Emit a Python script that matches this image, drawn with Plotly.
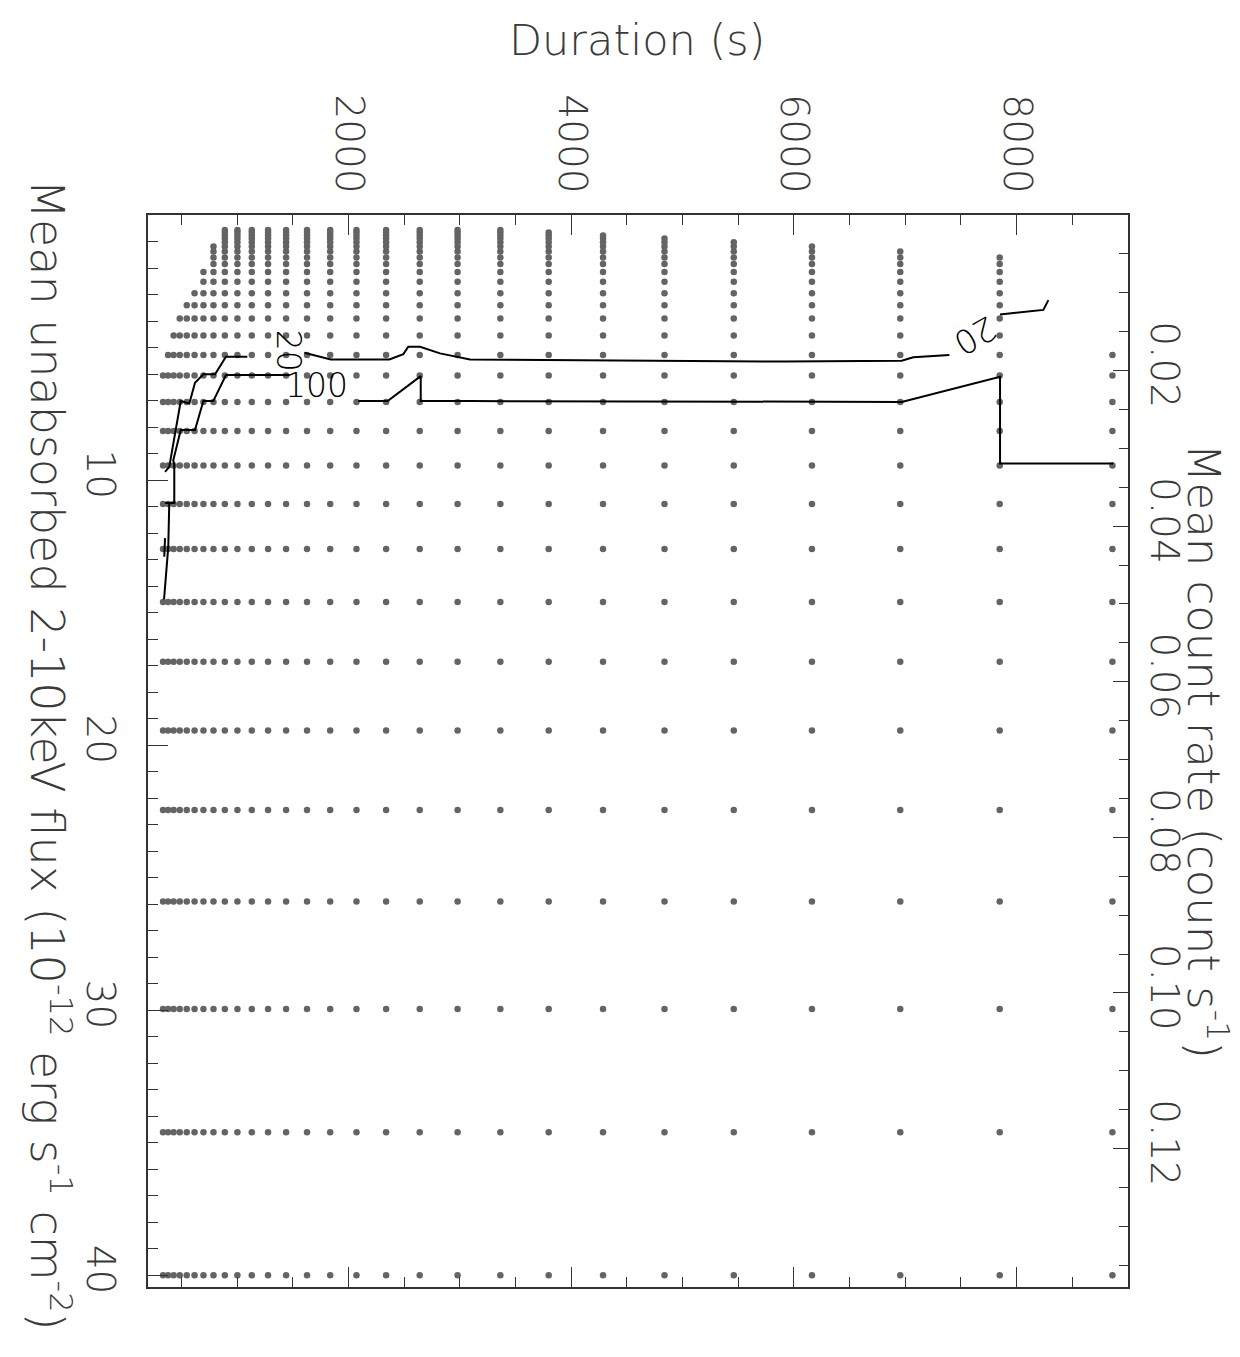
import plotly.graph_objects as go

# ---- data ----
durations = [335, 380, 430, 485, 548, 618, 698, 788, 890, 1003, 1132, 1278, 1440, 1628,
             1836, 2072, 2338, 2640, 2980, 3364, 3798, 4286, 4838, 5460, 6162, 6955, 7848, 8860]
# lowest flux row that has a point, per duration column
min_flux = [6.05, 5.28, 4.55, 3.9, 3.4, 2.95, 2.15, 1.19,
            0.57, 0.57, 0.57, 0.57, 0.57, 0.57, 0.57, 0.57, 0.57, 0.57, 0.57, 0.57,
            0.66, 0.77, 0.89, 1.03, 1.19, 1.38, 1.6, 5.28]
fluxes = [40.0, 34.6, 29.95, 25.9, 22.45, 19.45, 16.85, 14.6, 12.6, 10.9, 9.45, 8.15, 7.05,
          6.05, 5.28, 4.55, 3.9, 3.4, 2.95, 2.52, 2.15, 1.85, 1.6, 1.38, 1.19, 1.03, 0.89,
          0.77, 0.66, 0.57]

c20_dur = [8285, 8240, 7851, None, 7396, 7072, 6968, 5920, 3092, 2986, 2822, 2643, 2537, 2493,
           2367, 1841, 1604, None, 1092, 900, 802, 697, 622, 571, 494, 398, 391, 353]
c20_flux = [3.21, 3.58, 3.75, None, 5.28, 5.37, 5.50, 5.53, 5.45, 5.35, 5.22, 4.97, 4.97, 5.25,
            5.45, 5.45, 5.20, None, 5.35, 5.35, 6.01, 6.01, 6.33, 7.11, 7.02, 9.25, 9.50, 9.69]

c100_dur = [8868, 7851, 7851, 6968, 3092, 2649, 2649, 2352, 2088, None, 1469, 900, 786, 697,
            622, 494, 427, 436, 436, 353, None, 391, 382, 344, None, 353, 346]
c100_flux = [9.37, 9.37, 6.10, 7.05, 7.02, 7.02, 6.08, 7.02, 7.02, None, 6.04, 6.04, 7.02, 7.02,
             8.11, 8.11, 9.25, 9.43, 10.86, 10.86, None, 10.86, 12.52, 14.5, None, 12.19, 12.89]

contour_labels = ["20", "100", "20"]
label_dur = [1460, 1709, 7627]
label_flux = [5.13, 6.42, 4.57]
label_angle = [90, 0, 150]

dur_ticks = [2000, 4000, 6000, 8000]
flux_ticks = [10, 20, 30, 40]
rate_ticks = [0.02, 0.04, 0.06, 0.08, 0.10, 0.12]
rate_text = ["0.02", "0.04", "0.06", "0.08", "0.10", "0.12"]

# ---- build grid points ----
px, py = [], []
for d, fmin in zip(durations, min_flux):
    for f in fluxes:
        if f >= fmin - 1e-9:
            px.append(d)
            py.append(f)

FONT = "DejaVu Sans"
TXT = "#3a3a3a"
AX = "#333333"
W = 200

fig = go.Figure()
fig.add_trace(go.Scatter(x=px, y=py, mode="markers",
                         marker=dict(size=6.5, color="#646464"),
                         showlegend=False, hoverinfo="skip"))
fig.add_trace(go.Scatter(x=c20_dur, y=c20_flux, mode="lines",
                         line=dict(color="black", width=2), connectgaps=False,
                         showlegend=False))
fig.add_trace(go.Scatter(x=c100_dur, y=c100_flux, mode="lines",
                         line=dict(color="black", width=2), connectgaps=False,
                         showlegend=False))
fig.add_trace(go.Scatter(x=[None], y=[None], yaxis="y2", mode="markers",
                         showlegend=False, hoverinfo="skip"))

for t, d, f, a in zip(contour_labels, label_dur, label_flux, label_angle):
    fig.add_annotation(x=d, y=f, xref="x", yref="y", text=t, showarrow=False,
                       textangle=a, font=dict(family=FONT, size=33, color="black", weight=W))

fig.add_annotation(x=0.499, y=1.163, xref="paper", yref="paper", text="Duration (s)",
                   showarrow=False, font=dict(family=FONT, size=43, color=TXT, weight=W),
                   xanchor="center", yanchor="middle")
fig.add_annotation(x=-0.1, y=0.497, xref="paper", yref="paper",
                   text="Mean unabsorbed 2-10keV flux (10<sup>-12</sup> erg s<sup>-1</sup> cm<sup>-2</sup>)",
                   showarrow=False, textangle=90,
                   font=dict(family=FONT, size=46, color=TXT, weight=W),
                   xanchor="center", yanchor="middle")
fig.add_annotation(x=1.081, y=0.5, xref="paper", yref="paper",
                   text="Mean count rate (count s<sup>-1</sup>)",
                   showarrow=False, textangle=90,
                   font=dict(family=FONT, size=45, color=TXT, weight=W),
                   xanchor="center", yanchor="middle")

tickfont = dict(family=FONT, size=39, color=TXT, weight=W)

fig.update_layout(
    width=1240, height=1357,
    margin=dict(l=148, r=112, t=215, b=70),
    paper_bgcolor="white", plot_bgcolor="white",
    xaxis=dict(range=[200, 9000], side="top", tickvals=dur_ticks, tickangle=90,
               ticks="inside", ticklen=20, tickwidth=1.2, tickcolor=AX,
               minor=dict(dtick=500, tick0=0, ticks="inside", ticklen=10, tickcolor=AX, showgrid=False),
               showline=True, linecolor=AX, linewidth=1.5, mirror="ticks",
               showgrid=False, zeroline=False, tickfont=tickfont, ticklabelstandoff=6),
    yaxis=dict(range=[40.44, 0], tickvals=flux_ticks, tickangle=90,
               ticks="inside", ticklen=20, tickwidth=1.2, tickcolor=AX,
               minor=dict(dtick=1, tick0=0, ticks="inside", ticklen=10, tickcolor=AX, showgrid=False),
               showline=True, linecolor=AX, linewidth=1.5,
               showgrid=False, zeroline=False, tickfont=tickfont, ticklabelstandoff=12),
    yaxis2=dict(range=[0.1378, 0], overlaying="y", side="right", anchor="x",
                tickvals=rate_ticks, ticktext=rate_text, tickangle=90,
                ticks="inside", ticklen=15, tickwidth=1.2, tickcolor=AX,
                minor=dict(dtick=0.005, tick0=0, ticks="inside", ticklen=9, tickcolor=AX, showgrid=False),
                showline=True, linecolor=AX, linewidth=1.5,
                showgrid=False, zeroline=False, tickfont=tickfont, ticklabelstandoff=6),
)

fig.write_html("out.html")
